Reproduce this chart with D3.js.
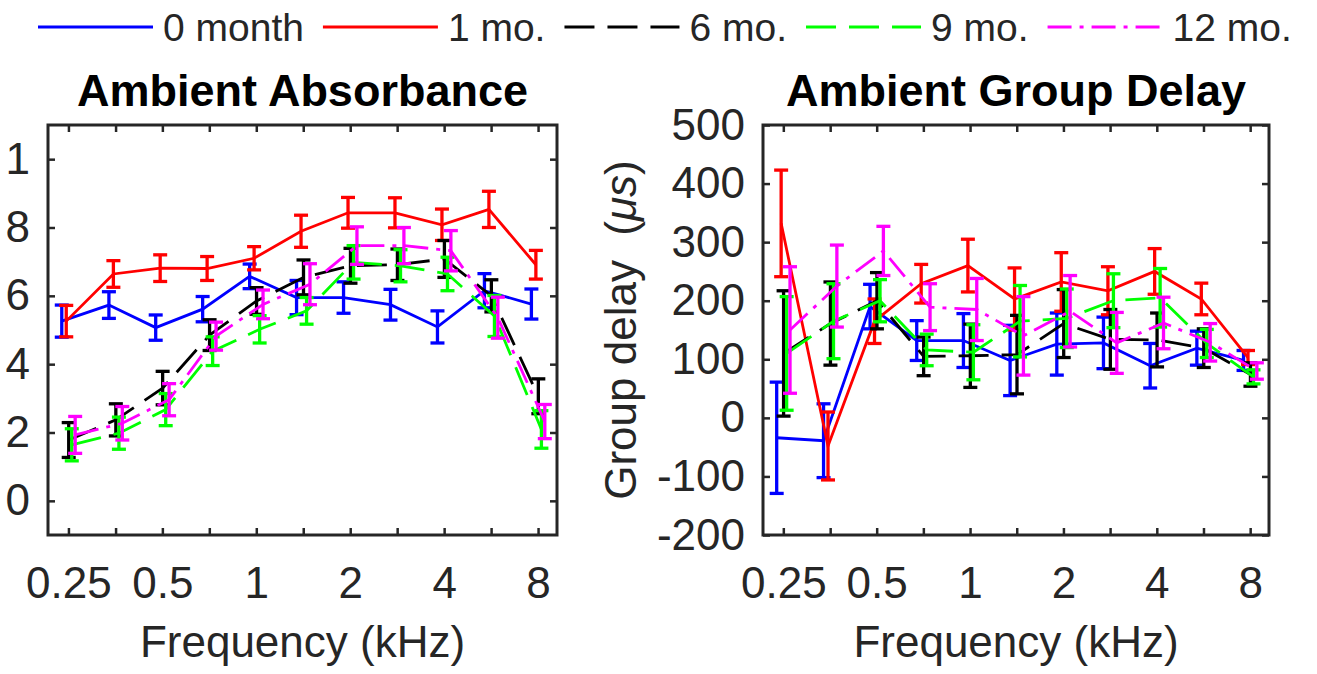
<!DOCTYPE html>
<html>
<head>
<meta charset="utf-8">
<script src="https://cdn.jsdelivr.net/npm/d3@7"></script>
<style>
  body { margin: 0; background: #fff; }
  svg text { font-family: "Liberation Sans", Arial, sans-serif; }
</style>
</head>
<body>
<svg id="chart" width="1317" height="674"></svg>
<script>
// half-octave frequencies (kHz)
const freqs = [0.25, 0.354, 0.5, 0.707, 1, 1.414, 2, 2.828, 4, 5.657, 8];
const octaveTicks = [0.25, 0.5, 1, 2, 4, 8];
const xTickLabels = ["0.25", "0.5", "1", "2", "4", "8"];

const seriesNames = ["0 month", "1 mo.", "6 mo.", "9 mo.", "12 mo."];

// ambient absorbance (mean and error)
const absMean0  = [0.526, 0.573, 0.507, 0.561, 0.657, 0.595, 0.595, 0.574, 0.509, 0.615, 0.576];
const absErr0   = [0.047, 0.039, 0.037, 0.037, 0.036, 0.050, 0.046, 0.045, 0.047, 0.050, 0.044];
const absMean1  = [0.526, 0.664, 0.681, 0.680, 0.710, 0.789, 0.843, 0.843, 0.808, 0.853, 0.691];
const absErr1   = [0.046, 0.039, 0.039, 0.035, 0.034, 0.047, 0.045, 0.044, 0.046, 0.053, 0.042];
const absMean6  = [0.178, 0.237, 0.330, 0.485, 0.585, 0.654, 0.688, 0.691, 0.708, 0.600, 0.306];
const absErr6   = [0.051, 0.047, 0.049, 0.045, 0.039, 0.051, 0.051, 0.046, 0.054, 0.047, 0.051];
const absMean9  = [0.164, 0.198, 0.267, 0.438, 0.502, 0.556, 0.698, 0.688, 0.664, 0.541, 0.209];
const absErr9   = [0.047, 0.047, 0.047, 0.042, 0.040, 0.039, 0.049, 0.047, 0.049, 0.060, 0.055];
const absMean12 = [0.193, 0.227, 0.296, 0.482, 0.575, 0.634, 0.747, 0.747, 0.732, 0.536, 0.232];
const absErr12  = [0.054, 0.049, 0.047, 0.041, 0.042, 0.060, 0.055, 0.053, 0.059, 0.060, 0.050];
const absYTicks = [0, 0.2, 0.4, 0.6, 0.8, 1];
const absYTickLabels = ["0", "2", "4", "6", "8", "1"];

// ambient group delay in microseconds (mean and error)
const gdMean0  = [-34, -39, 190, 132, 132, 98, 126, 128, 89, 119, 98];
const gdErr0   = [95, 63, 38, 34, 46, 60, 53, 44, 38, 29, 17];
const gdMean1  = [332, -48, 165, 229, 260, 203, 232, 217, 250, 203, 103];
const gdErr1   = [91, 58, 38, 33, 45, 53, 50, 41, 39, 27, 12];
const gdMean6  = [110, 161, 200, 105, 106, 108, 161, 134, 133, 119, 74];
const gdErr6   = [107, 71, 48, 33, 54, 67, 58, 51, 46, 33, 20];
const gdMean9  = [110, 165, 200, 116, 112, 165, 170, 200, 205, 127, 70];
const gdErr9   = [97, 64, 36, 27, 47, 61, 50, 46, 50, 24, 12];
const gdMean12 = [150, 225, 285, 189, 185, 140, 182, 128, 162, 129, 80];
const gdErr12  = [108, 70, 42, 40, 53, 67, 61, 52, 44, 32, 14];
const gdYTicks = [-200, -100, 0, 100, 200, 300, 400, 500];

// styles
const colors = ["#0000ff", "#ff0000", "#000000", "#00ff00", "#ff00ff"];
const dashes = [null, null, "30,13", "30,13", "24,8,4,8"];
const xShift = [0.952, 0.984, 1.002, 1.025, 1.051]; // small horizontal offsets per series
const axisColor = "#262626";

const svg = d3.select("#chart");

function drawPanel(box, title, means, errs, yDomain, yTicks, yLabels, yTitle) {
    const x = d3.scaleLog().base(2).domain([0.215, 9.2]).range([box.x0, box.x1]);
    const y = d3.scaleLinear().domain(yDomain).range([box.y1, box.y0]);
    const g = svg.append("g");

    // series
    means.forEach((m, s) => {
        const pts = freqs.map((f, i) => ({f: f * xShift[s], m: m[i], e: errs[s][i]}));
        const sg = g.append("g");
        sg.append("path")
            .datum(pts)
            .attr("fill", "none")
            .attr("stroke", colors[s])
            .attr("stroke-width", 2.8)
            .attr("stroke-dasharray", dashes[s])
            .attr("d", d3.line().x(d => x(d.f)).y(d => y(d.m)));

        const bars = sg.selectAll(".eb").data(pts).enter().append("g")
            .attr("stroke", colors[s]).attr("stroke-width", 3.3);
        bars.append("line")
            .attr("x1", d => x(d.f)).attr("x2", d => x(d.f))
            .attr("y1", d => y(d.m - d.e)).attr("y2", d => y(d.m + d.e));
        bars.append("line")
            .attr("x1", d => x(d.f) - 7).attr("x2", d => x(d.f) + 7)
            .attr("y1", d => y(d.m - d.e)).attr("y2", d => y(d.m - d.e));
        bars.append("line")
            .attr("x1", d => x(d.f) - 7).attr("x2", d => x(d.f) + 7)
            .attr("y1", d => y(d.m + d.e)).attr("y2", d => y(d.m + d.e));
    });

    // inward ticks on all four sides
    const tickAxis = [
        [d3.axisBottom(x).tickValues(freqs), `translate(0,${box.y1})`],
        [d3.axisTop(x).tickValues(freqs), `translate(0,${box.y0})`],
        [d3.axisLeft(y).tickValues(yTicks), `translate(${box.x0},0)`],
        [d3.axisRight(y).tickValues(yTicks), `translate(${box.x1},0)`]
    ];
    tickAxis.forEach(([ax, tr]) => {
        const a = g.append("g").attr("transform", tr)
            .call(ax.tickSizeInner(-7).tickSizeOuter(0).tickFormat(""));
        a.select(".domain").remove();
        a.selectAll("line").attr("stroke", axisColor).attr("stroke-width", 2.5);
    });

    // tick labels
    const xl = g.append("g").attr("transform", `translate(0,${box.y1})`)
        .call(d3.axisBottom(x).tickValues(octaveTicks).tickSize(0).tickPadding(32)
            .tickFormat((d, i) => xTickLabels[i]));
    const yl = g.append("g").attr("transform", `translate(${box.x0},0)`)
        .call(d3.axisLeft(y).tickValues(yTicks).tickSize(0).tickPadding(18)
            .tickFormat((d, i) => yLabels ? yLabels[i] : d));
    [xl, yl].forEach(a => {
        a.select(".domain").remove();
        a.selectAll("text")
            .attr("fill", axisColor)
            .style("font-size", "44px")
            .style("font-family", "'Liberation Sans', Arial, sans-serif");
    });

    // box
    g.append("rect")
        .attr("x", box.x0).attr("y", box.y0)
        .attr("width", box.x1 - box.x0).attr("height", box.y1 - box.y0)
        .attr("fill", "none").attr("stroke", axisColor).attr("stroke-width", 3);

    g.append("text")
        .attr("x", (box.x0 + box.x1) / 2).attr("y", 106)
        .attr("text-anchor", "middle")
        .style("font-size", "45px").style("font-weight", "bold")
        .text(title);

    g.append("text")
        .attr("x", (box.x0 + box.x1) / 2).attr("y", 657)
        .attr("text-anchor", "middle")
        .attr("fill", axisColor)
        .style("font-size", "44px")
        .text("Frequency (kHz)");

    if (yTitle) {
        const t = g.append("text")
            .attr("transform", `translate(${box.x0 - 127},${(box.y0 + box.y1) / 2}) rotate(-90)`)
            .attr("text-anchor", "middle")
            .attr("fill", axisColor)
            .style("font-size", "44px");
        t.append("tspan").text(yTitle + "\u00a0\u00a0(");
        t.append("tspan").style("font-style", "italic").text("\u03bcs");
        t.append("tspan").text(")");
    }
}

drawPanel({x0: 48, x1: 557, y0: 125, y1: 535}, "Ambient Absorbance",
    [absMean0, absMean1, absMean6, absMean9, absMean12],
    [absErr0, absErr1, absErr6, absErr9, absErr12],
    [-0.1, 1.1], absYTicks, absYTickLabels, null);

drawPanel({x0: 763, x1: 1269, y0: 125, y1: 535}, "Ambient Group Delay",
    [gdMean0, gdMean1, gdMean6, gdMean9, gdMean12],
    [gdErr0, gdErr1, gdErr6, gdErr9, gdErr12],
    [-200, 500], gdYTicks, null, "Group delay");

// legend across the top
const legend = svg.append("g");
let lx = 38;
seriesNames.forEach((name, s) => {
    legend.append("line")
        .attr("x1", lx).attr("x2", lx + 115)
        .attr("y1", 27).attr("y2", 27)
        .attr("stroke", colors[s]).attr("stroke-width", 3)
        .attr("stroke-dasharray", dashes[s]);
    const t = legend.append("text")
        .attr("x", lx + 125).attr("y", 41)
        .attr("fill", axisColor)
        .style("font-size", "39px")
        .text(name);
    lx += 125 + t.node().getComputedTextLength() + 19;
});
</script>
</body>
</html>
